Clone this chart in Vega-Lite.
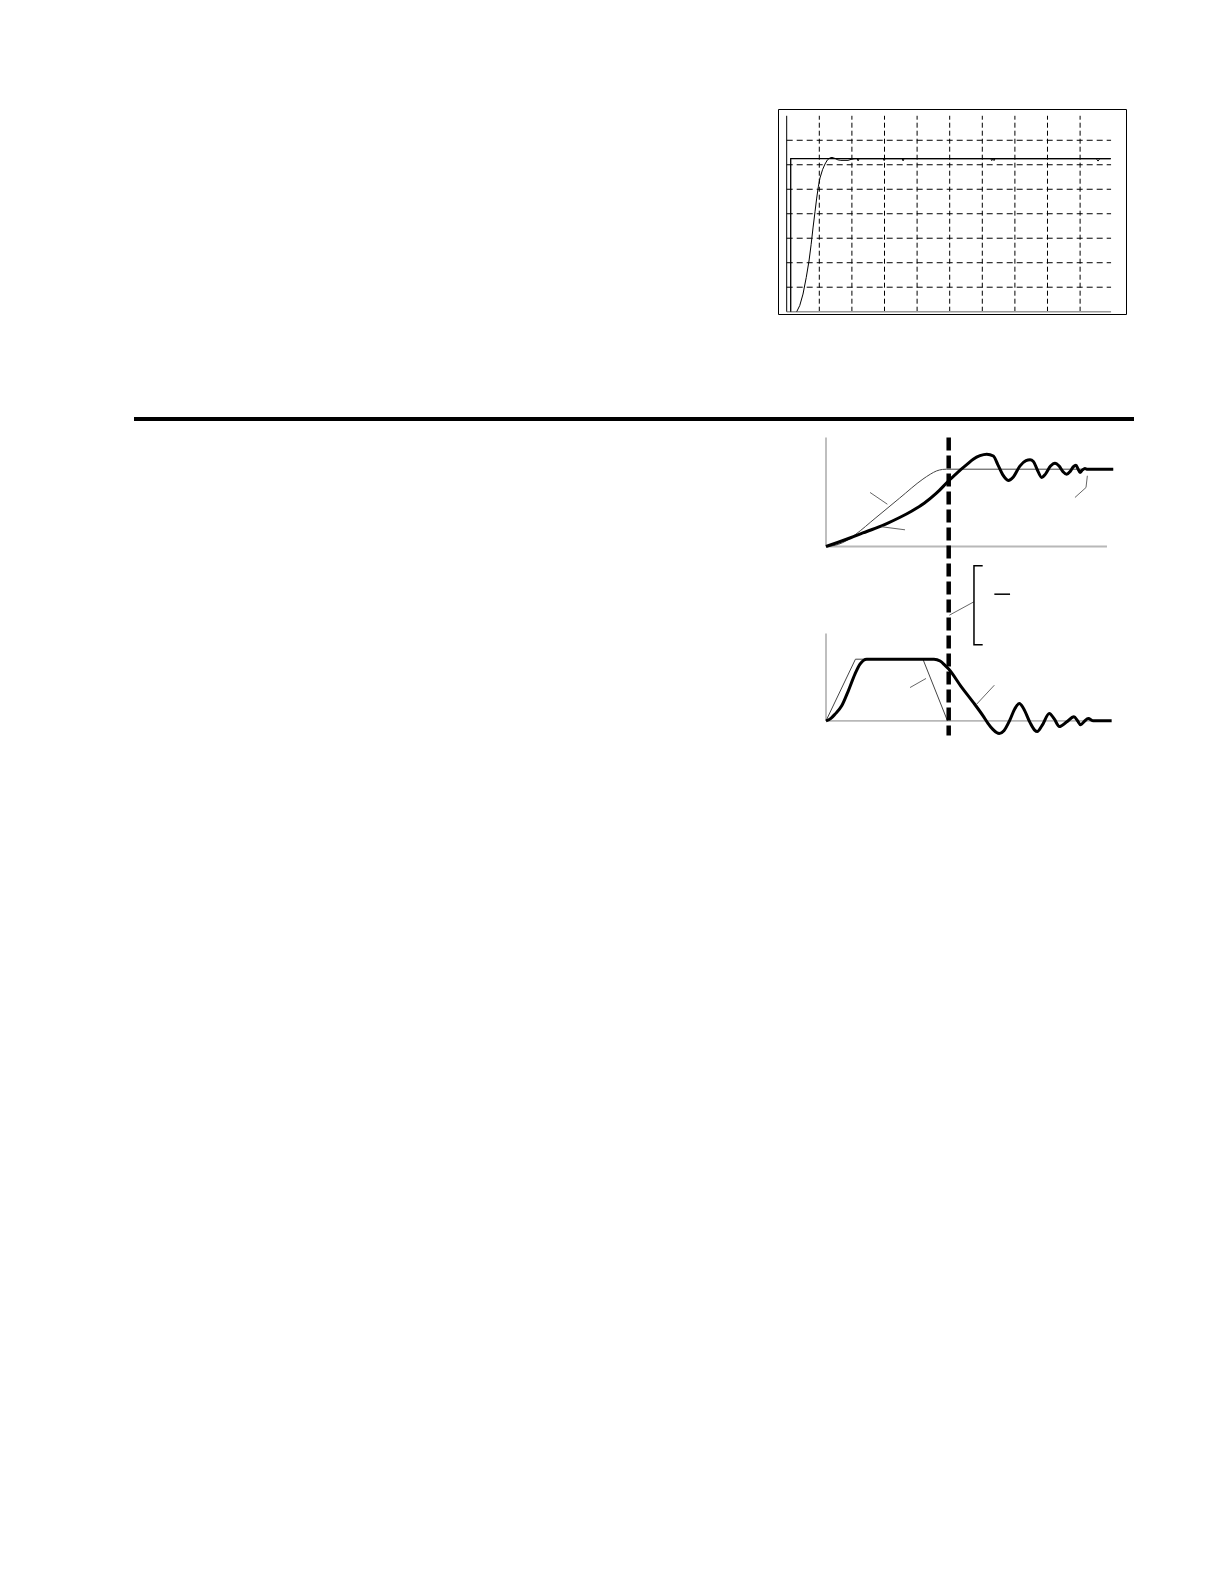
{
  "$schema": "https://vega.github.io/schema/vega-lite/v6.json",
  "background": "white",
  "padding": {"left": 134, "top": 108, "right": 0, "bottom": 0},
  "config": {"view": {"stroke": null}},
  "spacing": 0,
  "vconcat": [
    {
      "spacing": 0,
      "bounds": "flush",
      "hconcat": [
        {"width": 644, "height": 205, "data": {"values": []}, "mark": "point"},
        {
          "width": 348,
          "height": 205,
          "view": {"stroke": "black", "strokeWidth": 1},
          "encoding": {
            "x": {"field": "x", "type": "quantitative", "scale": {"domain": [-0.2669, 10.408], "nice": false, "zero": false}, "axis": null},
            "y": {"field": "y", "type": "quantitative", "scale": {"domain": [-0.0939, 8.277], "nice": false, "zero": false}, "axis": null}
          },
          "layer": [
            {
              "data": {"values": [
                {"x": 1, "y": 0, "y2": 8}, {"x": 2, "y": 0, "y2": 8}, {"x": 3, "y": 0, "y2": 8},
                {"x": 4, "y": 0, "y2": 8}, {"x": 5, "y": 0, "y2": 8}, {"x": 6, "y": 0, "y2": 8},
                {"x": 7, "y": 0, "y2": 8}, {"x": 8, "y": 0, "y2": 8}, {"x": 9, "y": 0, "y2": 8}
              ]},
              "mark": {"type": "rule", "color": "black", "strokeWidth": 1, "strokeDash": [5, 3]},
              "encoding": {"y2": {"field": "y2"}}
            },
            {
              "data": {"values": [
                {"y": 1, "x": 0, "x2": 9.95}, {"y": 2, "x": 0, "x2": 9.95}, {"y": 3, "x": 0, "x2": 9.95},
                {"y": 4, "x": 0, "x2": 9.95}, {"y": 5, "x": 0, "x2": 9.95}, {"y": 6, "x": 0, "x2": 9.95},
                {"y": 7, "x": 0, "x2": 9.95}
              ]},
              "mark": {"type": "rule", "color": "black", "strokeWidth": 1, "strokeDash": [6, 4]},
              "encoding": {"x2": {"field": "x2"}}
            },
            {
              "data": {"values": [{"x": 0, "y": 0, "x2": 9.95}]},
              "mark": {"type": "rule", "color": "#999999", "strokeWidth": 1.5},
              "encoding": {"x2": {"field": "x2"}}
            },
            {
              "data": {"values": [{"x": 0, "y": 0, "y2": 8}]},
              "mark": {"type": "rule", "color": "black", "strokeWidth": 1},
              "encoding": {"y2": {"field": "y2"}}
            },
            {
              "data": {"values": [
                {"i": 0, "x": 0.123, "y": 0}, {"i": 1, "x": 0.123, "y": 6.247}, {"i": 2, "x": 9.94, "y": 6.247}
              ]},
              "mark": {"type": "line", "color": "black", "strokeWidth": 1.3},
              "encoding": {"order": {"field": "i", "type": "quantitative"}}
            },
            {
              "data": {"values": [
                {"x": 0.307, "y": 0}, {"x": 0.4, "y": 0.25}, {"x": 0.5, "y": 0.72}, {"x": 0.6, "y": 1.4},
                {"x": 0.684, "y": 2.07}, {"x": 0.75, "y": 2.75}, {"x": 0.807, "y": 3.42}, {"x": 0.87, "y": 4.1},
                {"x": 0.92, "y": 4.64}, {"x": 0.97, "y": 5.1}, {"x": 1.021, "y": 5.46}, {"x": 1.1, "y": 5.8},
                {"x": 1.175, "y": 6.03}, {"x": 1.25, "y": 6.2}, {"x": 1.328, "y": 6.28}, {"x": 1.39, "y": 6.3},
                {"x": 1.48, "y": 6.26}, {"x": 1.57, "y": 6.2}, {"x": 1.66, "y": 6.18}, {"x": 1.88, "y": 6.18},
                {"x": 2.0, "y": 6.23}, {"x": 2.1, "y": 6.247}, {"x": 2.16, "y": 6.247}, {"x": 2.19, "y": 6.16},
                {"x": 2.22, "y": 6.247}, {"x": 2.96, "y": 6.247}, {"x": 2.99, "y": 6.17}, {"x": 3.02, "y": 6.247},
                {"x": 3.54, "y": 6.247}, {"x": 3.57, "y": 6.16}, {"x": 3.6, "y": 6.247}, {"x": 6.26, "y": 6.247},
                {"x": 6.29, "y": 6.17}, {"x": 6.32, "y": 6.247}, {"x": 6.36, "y": 6.17}, {"x": 6.39, "y": 6.247},
                {"x": 9.5, "y": 6.247}, {"x": 9.55, "y": 6.15}, {"x": 9.6, "y": 6.247}, {"x": 9.94, "y": 6.247}
              ]},
              "mark": {"type": "line", "color": "black", "strokeWidth": 1}
            }
          ]
        }
      ]
    },
    {"width": 1000, "height": 101.5, "data": {"values": []}, "mark": "point"},
    {
      "width": 1000,
      "height": 4,
      "data": {"values": [{"x": 0, "x2": 1, "y": 0, "y2": 1}]},
      "mark": {"type": "rect", "color": "black"},
      "encoding": {
        "x": {"field": "x", "type": "quantitative", "scale": {"domain": [0, 1], "nice": false}, "axis": null},
        "x2": {"field": "x2"},
        "y": {"field": "y", "type": "quantitative", "scale": {"domain": [0, 1], "nice": false}, "axis": null},
        "y2": {"field": "y2"}
      }
    },
    {
      "spacing": 0,
      "bounds": "flush",
      "hconcat": [
        {"width": 676, "height": 321.5, "data": {"values": []}, "mark": "point"},
        {
          "width": 310,
          "height": 321.5,
          "resolve": {"scale": {"y": "independent"}},
          "layer": [
            {
              "encoding": {
                "x": {"field": "x", "type": "quantitative", "scale": {"domain": [-0.1304, 2.3961], "nice": false, "zero": false}, "axis": null},
                "y": {"field": "y", "type": "quantitative", "scale": {"domain": [-0.3523, 4.8669], "nice": false, "zero": false}, "axis": null}
              },
              "layer": [
                {
                  "data": {"values": [{"x": 0, "y": 0, "x2": 2.29}, {"x": 0, "y": 0, "y2": 1.417}]},
                  "mark": {"type": "rule", "color": "#b8b8b8", "strokeWidth": 1.8},
                  "encoding": {"x2": {"field": "x2"}, "y2": {"field": "y2"}}
                },
                {
                  "data": {"values": [
                    {"i": 0, "x": 0, "y": 0}, {"i": 1, "x": 0.24, "y": 1}, {"i": 2, "x": 0.79, "y": 1}, {"i": 3, "x": 0.99, "y": 0}
                  ]},
                  "mark": {"type": "line", "color": "#444444", "strokeWidth": 1},
                  "encoding": {"order": {"field": "i", "type": "quantitative"}}
                },
                {
                  "data": {"values": [
                    {"x": 0, "y": 0}, {"x": 0.04, "y": 0.04}, {"x": 0.073, "y": 0.107}, {"x": 0.128, "y": 0.243},
                    {"x": 0.182, "y": 0.487}, {"x": 0.236, "y": 0.758}, {"x": 0.277, "y": 0.92}, {"x": 0.332, "y": 1.0},
                    {"x": 0.88, "y": 1.0}, {"x": 0.93, "y": 0.97}, {"x": 0.97, "y": 0.9}, {"x": 1.0, "y": 0.84},
                    {"x": 1.1, "y": 0.56}, {"x": 1.2, "y": 0.3}, {"x": 1.28, "y": 0.08}, {"x": 1.32, "y": -0.04},
                    {"x": 1.36, "y": -0.14}, {"x": 1.39, "y": -0.19}, {"x": 1.412, "y": -0.206}, {"x": 1.45, "y": -0.16},
                    {"x": 1.5, "y": 0.02},
                    {"x": 1.54, "y": 0.2}, {"x": 1.576, "y": 0.28}, {"x": 1.61, "y": 0.2}, {"x": 1.663, "y": -0.03},
                    {"x": 1.7, "y": -0.15}, {"x": 1.722, "y": -0.174}, {"x": 1.76, "y": -0.08}, {"x": 1.82, "y": 0.119},
                    {"x": 1.86, "y": 0.03}, {"x": 1.902, "y": -0.093}, {"x": 1.96, "y": -0.02}, {"x": 2.021, "y": 0.065},
                    {"x": 2.05, "y": 0.0}, {"x": 2.075, "y": -0.065}, {"x": 2.105, "y": -0.01}, {"x": 2.138, "y": 0.037},
                    {"x": 2.179, "y": 0}, {"x": 2.328, "y": 0}
                  ]},
                  "mark": {"type": "line", "color": "black", "strokeWidth": 3, "interpolate": "monotone"}
                },
                {
                  "data": {"values": [
                    {"x": 0.685, "y": 0.54, "x2": 0.815, "y2": 0.687},
                    {"x": 1.228, "y": 0.27, "x2": 1.372, "y2": 0.578}
                  ]},
                  "mark": {"type": "rule", "color": "#555555", "strokeWidth": 0.9},
                  "encoding": {"x2": {"field": "x2"}, "y2": {"field": "y2"}}
                }
              ]
            },
            {
              "encoding": {
                "x": {"field": "x", "type": "quantitative", "scale": {"domain": [-0.1304, 2.3961], "nice": false, "zero": false}, "axis": null},
                "y": {"field": "y", "type": "quantitative", "scale": {"domain": [-2.5356, 1.6235], "nice": false, "zero": false}, "axis": null}
              },
              "layer": [
                {
                  "data": {"values": [{"x": 0, "y": 0, "x2": 2.29}, {"x": 0, "y": 0, "y2": 1.41}]},
                  "mark": {"type": "rule", "color": "#b8b8b8", "strokeWidth": 1.8},
                  "encoding": {"x2": {"field": "x2"}, "y2": {"field": "y2"}}
                },
                {
                  "data": {"values": [
                    {"x": 0, "y": 0}, {"x": 0.1, "y": 0.027}, {"x": 0.17, "y": 0.078}, {"x": 0.244, "y": 0.16},
                    {"x": 0.4, "y": 0.364}, {"x": 0.6, "y": 0.626}, {"x": 0.79, "y": 0.872}, {"x": 0.85, "y": 0.935},
                    {"x": 0.9, "y": 0.977}, {"x": 0.95, "y": 0.997}, {"x": 0.983, "y": 1.0}, {"x": 2.34, "y": 1.0}
                  ]},
                  "mark": {"type": "line", "color": "#444444", "strokeWidth": 1, "interpolate": "monotone"}
                },
                {
                  "data": {"values": [
                    {"x": 0, "y": 0}, {"x": 0.1, "y": 0.055}, {"x": 0.2, "y": 0.113}, {"x": 0.3, "y": 0.175},
                    {"x": 0.4, "y": 0.235}, {"x": 0.5, "y": 0.3}, {"x": 0.6, "y": 0.375}, {"x": 0.7, "y": 0.46},
                    {"x": 0.8, "y": 0.56}, {"x": 0.9, "y": 0.69}, {"x": 1.0, "y": 0.85}, {"x": 1.08, "y": 0.97},
                    {"x": 1.147, "y": 1.06}, {"x": 1.2, "y": 1.13}, {"x": 1.255, "y": 1.175}, {"x": 1.31, "y": 1.194},
                    {"x": 1.364, "y": 1.17}, {"x": 1.4, "y": 1.06}, {"x": 1.44, "y": 0.93}, {"x": 1.486, "y": 0.855},
                    {"x": 1.527, "y": 0.9}, {"x": 1.58, "y": 1.04}, {"x": 1.63, "y": 1.11}, {"x": 1.663, "y": 1.122},
                    {"x": 1.69, "y": 1.1}, {"x": 1.72, "y": 1.0}, {"x": 1.758, "y": 0.893}, {"x": 1.79, "y": 0.94},
                    {"x": 1.83, "y": 1.04}, {"x": 1.866, "y": 1.078}, {"x": 1.9, "y": 1.04}, {"x": 1.93, "y": 0.97},
                    {"x": 1.962, "y": 0.935}, {"x": 1.99, "y": 0.97}, {"x": 2.015, "y": 1.03}, {"x": 2.037, "y": 1.052},
                    {"x": 2.055, "y": 1.0}, {"x": 2.07, "y": 0.957}, {"x": 2.09, "y": 0.99}, {"x": 2.11, "y": 1.01},
                    {"x": 2.125, "y": 1.0}, {"x": 2.341, "y": 1.0}
                  ]},
                  "mark": {"type": "line", "color": "black", "strokeWidth": 3, "interpolate": "monotone"}
                },
                {
                  "data": {"values": [
                    {"x": 0.359, "y": 0.699, "x2": 0.5, "y2": 0.547},
                    {"x": 0.454, "y": 0.255, "x2": 0.644, "y2": 0.216},
                    {"x": 2.029, "y": 0.634, "x2": 2.119, "y2": 0.763},
                    {"x": 2.119, "y": 0.763, "x2": 2.13, "y2": 0.915},
                    {"x": 1.005, "y": -0.889, "x2": 1.206, "y2": -0.715}
                  ]},
                  "mark": {"type": "rule", "color": "#555555", "strokeWidth": 0.9},
                  "encoding": {"x2": {"field": "x2"}, "y2": {"field": "y2"}}
                },
                {
                  "data": {"values": [
                    {"i": 0, "x": 1.277, "y": -0.25}, {"i": 1, "x": 1.206, "y": -0.25},
                    {"i": 2, "x": 1.206, "y": -1.272}, {"i": 3, "x": 1.277, "y": -1.272}
                  ]},
                  "mark": {"type": "line", "color": "black", "strokeWidth": 1.5},
                  "encoding": {"order": {"field": "i", "type": "quantitative"}}
                },
                {
                  "data": {"values": [{"x": 1.372, "y": -0.617, "x2": 1.5}]},
                  "mark": {"type": "rule", "color": "black", "strokeWidth": 1.5},
                  "encoding": {"x2": {"field": "x2"}}
                },
                {
                  "data": {"values": [{"x": 1.0, "y": 1.41, "y2": -2.445}]},
                  "mark": {"type": "rule", "color": "black", "strokeWidth": 4.5, "strokeDash": [13, 5]},
                  "encoding": {"y2": {"field": "y2"}}
                }
              ]
            }
          ]
        }
      ]
    }
  ]
}
